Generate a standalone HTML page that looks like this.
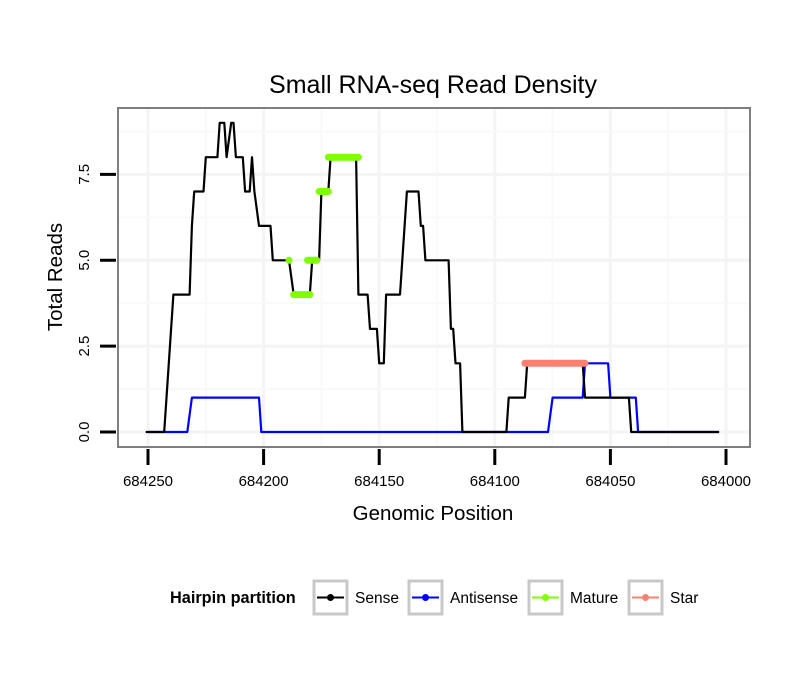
<!DOCTYPE html>
<html><head><meta charset="utf-8"><style>
body{margin:0;background:#fff;font-family:"Liberation Sans",sans-serif}
</style></head><body>
<svg id="c" width="810" height="690" viewBox="0 0 810 690" xmlns="http://www.w3.org/2000/svg">
<rect width="810" height="690" fill="#fff"/>
<text x="433" y="93" font-size="25" text-anchor="middle" font-family="Liberation Sans">Small RNA-seq Read Density</text>
<text x="433" y="520" font-size="20.5" text-anchor="middle" font-family="Liberation Sans">Genomic Position</text>
<text transform="translate(62,277) rotate(-90)" font-size="20.5" text-anchor="middle" font-family="Liberation Sans">Total Reads</text>
<g id="grid"></g><g id="marks"></g><g id="axes"></g>
<g id="legend">
<text x="170" y="603" font-size="16.3" font-weight="bold" font-family="Liberation Sans">Hairpin partition</text>
</g>
</svg>
<script>
const xTicks=[684250,684200,684150,684100,684050,684000];
const yTicks=[0,2.5,5,7.5];
const yTickLabels=["0.0","2.5","5.0","7.5"];
const sensePos=[684251,684243,684239,684232,684231,684230,684226,684225,684220,684219,684217,684216,684214,684213,684212,684209,684208,684206,684205,684204,684202,684197,684196,684189,684187,684180,684179,684176,684175,684172,684171,684160,684159,684155,684154,684151,684150,684148,684147,684141,684138,684133,684132,684131,684130,684120,684119,684118,684117,684115,684114,684095,684094,684087,684086,684062,684061,684042,684041,684003];
const senseVal=[0,0,4,4,6,7,7,8,8,9,9,8,9,9,8,8,7,7,8,7,6,6,5,5,4,4,5,5,7,7,8,8,4,4,3,3,2,2,4,4,7,7,6,6,5,5,3,3,2,2,0,0,1,1,2,2,1,1,0,0];
const antiPos=[684250,684233,684231,684202,684201,684077,684075,684062,684061,684051,684050,684039,684038,684003];
const antiVal=[0,0,1,1,0,0,1,1,2,2,1,1,0,0];
const matureStart=[684189,684187,684181,684176,684172];
const matureEnd=[684189,684180,684177,684172,684159];
const matureVal=[5,4,5,7,8];
const starStart=[684087];
const starEnd=[684061];
const starVal=[2];
const NS="http://www.w3.org/2000/svg";
const L=118,R=750,T=108,B=447;
const X=p=>148+(684250-p)*2.312;
const Y=v=>432-v*34.35;
function mk(tag,attrs,parent){const e=document.createElementNS(NS,tag);for(const k in attrs)e.setAttribute(k,attrs[k]);document.getElementById(parent).appendChild(e);return e;}
for(let i=0;i<xTicks.length;i++){
 const g=mk('line',{x1:X(xTicks[i]),x2:X(xTicks[i]),y1:T,y2:B,stroke:'#f4f4f4','stroke-width':3},'grid');
 
 
 if(i<xTicks.length-1){const xm=(X(xTicks[i])+X(xTicks[i+1]))/2;
 const m=mk('line',{x1:xm,x2:xm,y1:T,y2:B,stroke:'#f9f9f9','stroke-width':2},'grid');
 
 }
 const t=mk('line',{x1:X(xTicks[i]),x2:X(xTicks[i]),y1:449,y2:465,stroke:'#000','stroke-width':3},'axes');
 
 
 const tl=mk('text',{x:X(xTicks[i]),y:486,'font-size':15,'text-anchor':'middle','font-family':'Liberation Sans'},'axes');
 tl.textContent=xTicks[i];
 
 
}
for(let i=0;i<yTicks.length;i++){
 const g=mk('line',{x1:L,x2:R,y1:Y(yTicks[i]),y2:Y(yTicks[i]),stroke:'#f4f4f4','stroke-width':3},'grid');
 
 
 const ym=Y(yTicks[i]+1.25);
 const m=mk('line',{x1:L,x2:R,y1:ym,y2:ym,stroke:'#f9f9f9','stroke-width':2},'grid');
 
 
 const t=mk('line',{x1:100,x2:116,y1:Y(yTicks[i]),y2:Y(yTicks[i]),stroke:'#000','stroke-width':3},'axes');
 
 
 const tl=mk('text',{transform:`translate(89,${Y(yTicks[i])}) rotate(-90)`,'font-size':15,'text-anchor':'middle','font-family':'Liberation Sans'},'axes');
 tl.textContent=yTickLabels[i];
 
 
}
const fr=mk('rect',{x:L,y:T,width:R-L,height:B-T,fill:'none',stroke:'#7f7f7f','stroke-width':2},'axes');


function line(pos,val,color,name){
 const d=pos.map((p,i)=>(i?'L':'M')+X(p).toFixed(1)+','+Y(val[i]).toFixed(1)).join(' ');
 const e=mk('path',{d:d,fill:'none',stroke:color,'stroke-width':2.2,'stroke-linejoin':'round'},'marks');
 
 
}
line(antiPos,antiVal,'#0000ff','antisense-line');
line(sensePos,senseVal,'#000','sense-line');
function seg(s,e,v,color,name){
 for(let i=0;i<s.length;i++){
  const el=mk('line',{x1:X(s[i]),x2:X(e[i]),y1:Y(v[i]),y2:Y(v[i]),stroke:color,'stroke-width':7,'stroke-linecap':'round'},'marks');
  
  
 }
}
seg(matureStart,matureEnd,matureVal,'#7fff00','mature-segment');
seg(starStart,starEnd,starVal,'#fa8072','star-segment');
const legNames=['Sense','Antisense','Mature','Star'];
const legColors=['#000','#0000ff','#7fff00','#fa8072'];
const legX=[313,408,528,628];
for(let i=0;i<4;i++){
 const b=mk('rect',{x:legX[i]+1,y:581,width:33,height:33,fill:'#fff',stroke:'#c8c8c8','stroke-width':3},'legend');
 
 
 const l=mk('line',{x1:legX[i]+4,x2:legX[i]+31,y1:597.5,y2:597.5,stroke:legColors[i],'stroke-width':2},'legend');
 
 
 const c=mk('circle',{cx:legX[i]+17.5,cy:597.5,r:3.5,fill:legColors[i]},'legend');
 
 
 const t=mk('text',{x:legX[i]+42,y:603,'font-size':15.5,'font-family':'Liberation Sans'},'legend');
 t.textContent=legNames[i];
 
 
}
</script>
</body></html>
